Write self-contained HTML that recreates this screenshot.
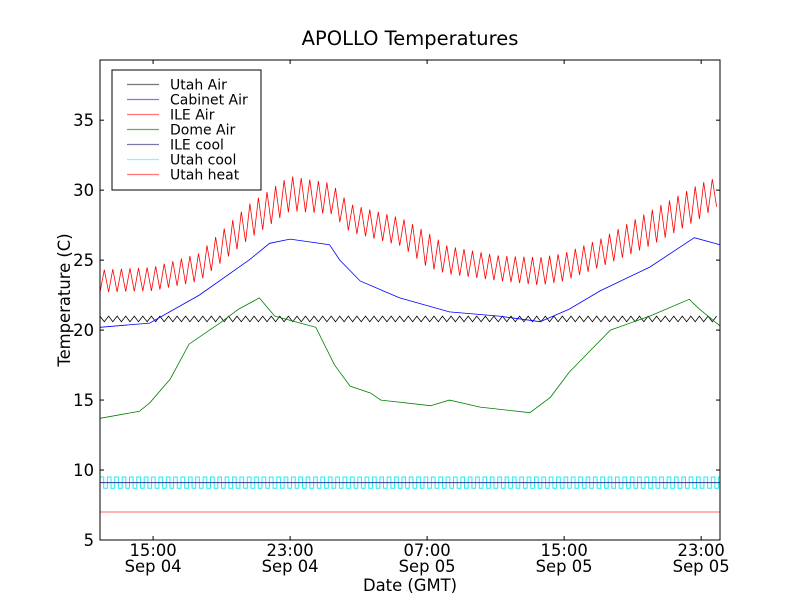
<!DOCTYPE html>
<html><head><meta charset="utf-8"><style>
body{margin:0;background:#fff;}
svg text{font-family:"DejaVu Sans","Liberation Sans",sans-serif;}
</style></head><body>
<svg id="chart" width="800" height="600" xmlns="http://www.w3.org/2000/svg">
<rect width="800" height="600" fill="#fff"/>
<text x="410" y="45" font-size="19.5" text-anchor="middle">APOLLO Temperatures</text>
<g id="plot"></g>
<rect x="100" y="60" width="620" height="480" fill="none" stroke="#000" stroke-width="1"/>
<g id="axes"></g>
<text x="410" y="591" font-size="16.4" text-anchor="middle">Date (GMT)</text>
<text transform="translate(70,300) rotate(-90)" font-size="16.4" text-anchor="middle">Temperature (C)</text>
<g id="legend"></g>
</svg>
<script>
// hours since Sep 04 00:00
const xTicks=[15,23,31,39,47];
const xTickTop=["15:00","23:00","07:00","15:00","23:00"];
const xTickBottom=["Sep 04","Sep 04","Sep 05","Sep 05","Sep 05"];
const yTicks=[5,10,15,20,25,30,35];
const ileHours=[11.9,15,17.7,20.6,23,25.4,26.5,29.5,31,32.2,35.3,37.6,39,41.1,44,47,48.1];
const ileLow=[22.7,22.8,23.5,26.5,28.5,28.3,27,26,24.5,24,23.5,23.2,23.5,24.5,26,28,29];
const ileHigh=[24.3,24.5,25.5,29,31,30.5,29,28,27,26,25.3,25.2,25.5,26.5,28.5,30.5,31];
const cabHours=[11.9,14.8,17.7,20.6,21.8,23,25.3,25.9,27.1,29.4,32.3,35.2,37.6,39.3,41.1,44,46.6,48.1];
const cabVals=[20.2,20.5,22.5,25,26.2,26.5,26.1,25,23.5,22.3,21.3,21,20.6,21.5,22.8,24.5,26.6,26.1];
const domeHours=[11.9,14.2,14.8,16,17.1,18.9,20,21.2,22.1,23.6,24.5,25.6,26.5,27.7,28.3,31.2,32.3,34.1,37,38.2,39.3,40.5,41.7,44,46.3,46.9,48.1];
const domeVals=[13.7,14.2,14.8,16.5,19,20.5,21.5,22.3,21,20.5,20.2,17.5,16,15.5,15,14.6,15,14.5,14.1,15.2,17,18.5,20,21,22.2,21.5,20.3];
const utahLow=20.6, utahHigh=21.0;
const coolLow=8.7, coolHigh=9.5;
const ileCool=9.1, utahHeat=7;
const xMin=11.9, xMax=48.1, yMin=5, yMax=39.3;
const X=h=>100+(h-xMin)/(xMax-xMin)*620;
const Y=v=>540-(v-yMin)/(yMax-yMin)*480;
const NS="http://www.w3.org/2000/svg";
const plot=document.getElementById('plot'),axes=document.getElementById('axes'),legend=document.getElementById('legend');
function mk(tag,attrs,parent){const e=document.createElementNS(NS,tag);for(const k in attrs)e.setAttribute(k,attrs[k]);parent.appendChild(e);return e;}
function interp(hs,vs,h){if(h<=hs[0])return vs[0];for(let i=1;i<hs.length;i++){if(h<=hs[i]){const t=(h-hs[i-1])/(hs[i]-hs[i-1]);return vs[i-1]+t*(vs[i]-vs[i-1]);}}return vs[vs.length-1];}
function poly(pts,color,name,w){const p=mk('polyline',{points:pts.map(q=>q[0].toFixed(1)+','+q[1].toFixed(1)).join(' '),fill:'none',stroke:color,'stroke-width':w||0.8},plot);

}
poly([[X(xMin),Y(utahHeat)],[X(xMax),Y(utahHeat)]],'#ff6666','utah-heat-line',1);
{let pts=[];const step=0.215;let s=0;for(let h=xMin;h<xMax;h+=step){const v=s%2?coolLow:coolHigh;pts.push([X(h),Y(v)]);pts.push([X(Math.min(h+step,xMax)),Y(v)]);s++;}poly(pts,'#22eeee','utah-cool-line',1);}
poly([[X(xMin),Y(ileCool)],[X(xMax),Y(ileCool)]],'#333399','ile-cool-line',1);
{let pts=[];let s=0;for(let h=xMin;h<=xMax;h+=0.25){pts.push([X(h),Y(s%2?utahLow:utahHigh)]);s++;}poly(pts,'#000','utah-air-line');}
poly(domeHours.map((h,i)=>[X(h),Y(domeVals[i])]),'#008000','dome-air-line');
poly(cabHours.map((h,i)=>[X(h),Y(cabVals[i])]),'#0000ff','cabinet-air-line');
{let pts=[];let s=0;for(let h=xMin;h<=xMax;h+=0.25){pts.push([X(h),Y(s%2?interp(ileHours,ileHigh,h):interp(ileHours,ileLow,h))]);s++;}poly(pts,'#ff0000','ile-air-line');}
yTicks.forEach(v=>{const y=Y(v);
const a=mk('line',{x1:100,x2:104,y1:y,y2:y,stroke:'#000'},axes);
const b=mk('line',{x1:716,x2:720,y1:y,y2:y,stroke:'#000'},axes);
const t=mk('text',{x:94,y:y+6,'font-size':16.4,'text-anchor':'end'},axes);t.textContent=v;});
xTicks.forEach((h,i)=>{const x=X(h);
const a=mk('line',{x1:x,x2:x,y1:536,y2:540,stroke:'#000'},axes);
const b=mk('line',{x1:x,x2:x,y1:60,y2:64,stroke:'#000'},axes);
const t=mk('text',{x:x,y:556,'font-size':16.4,'text-anchor':'middle'},axes);t.textContent=xTickTop[i];
const t2=mk('text',{x:x,y:572,'font-size':16.4,'text-anchor':'middle'},axes);t2.textContent=xTickBottom[i];});
const legNames=["Utah Air","Cabinet Air","ILE Air","Dome Air","ILE cool","Utah cool","Utah heat"];
const legColors=["#777777","#7777ff","#ff7777","#66aa66","#7777aa","#77ffff","#ff7777"];
const lb=mk('rect',{x:112,y:70,width:149,height:120,fill:'#fff',stroke:'#000','stroke-width':1},legend);

legNames.forEach((n,i)=>{const y=84.5+i*15;
const l=mk('line',{x1:127,x2:159,y1:y,y2:y,stroke:legColors[i],'stroke-width':1.2},legend);
const t=mk('text',{x:170,y:y+5,'font-size':14},legend);t.textContent=n;});
</script>
</body></html>
